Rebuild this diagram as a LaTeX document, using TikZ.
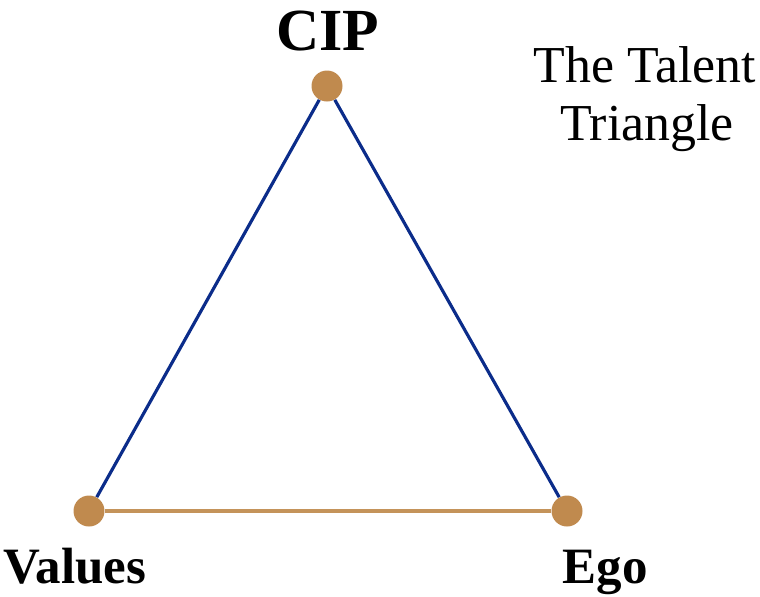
\documentclass[tikz,border=0pt]{standalone}
\usepackage{fontspec}
\setmainfont{Liberation Serif}
\usetikzlibrary{positioning}
\definecolor{tanbrown}{HTML}{C08A4E}
\definecolor{tanline}{HTML}{C4935A}
\definecolor{navyline}{HTML}{0B2C8A}
\tikzstyle{dot} = [circle, fill=tanbrown, inner sep=0pt, minimum size=0.62cm]
\tikzstyle{edge} = [draw, line width=1.8pt, navyline]
\tikzstyle{corner} = [font=\bfseries\fontsize{29}{32}\selectfont, anchor=base]

\begin{document}
\begin{tikzpicture}[x=0.02cm, y=-0.02cm,
    title/.style={font=\fontsize{29.5}{33}\selectfont, anchor=base}]
    \useasboundingbox (0,0) rectangle (760,596);
    \node[dot] (cip) at (327,86) {};
    \node[dot] (val) at (89,511) {};
    \node[dot] (ego) at (567,511) {};
    %% sides
    \path [edge] (cip) -- (val);
    \path [edge] (cip) -- (ego);
    \path [edge, tanline] (val) -- (ego);
    %% labels
    \node[corner, font=\bfseries\fontsize{34}{38}\selectfont] (cipText) at (328,50) {CIP};
    \node[corner] (valText) at (75,583) {Values};
    \node[corner] (egoText) at (605,583) {Ego};
    %%
    \node[title] (titleA) at (645,82) {The Talent};
    \node[title] (titleB) at (647,140) {Triangle};
\end{tikzpicture}
\end{document}
